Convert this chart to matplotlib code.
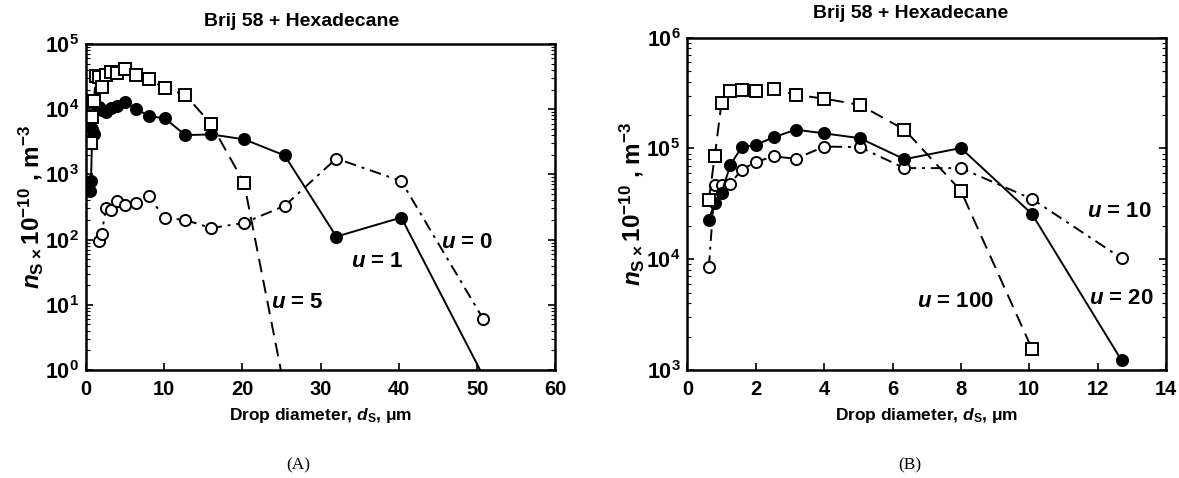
import matplotlib
matplotlib.use("Agg")
import matplotlib.pyplot as plt

plt.rcParams.update({
    "font.family": "Liberation Sans",
    "font.weight": "bold",
    "axes.labelweight": "bold",
    "font.size": 12,
    "mathtext.fontset": "custom",
    "mathtext.rm": "Liberation Sans:bold",
    "mathtext.bf": "Liberation Sans:bold",
    "mathtext.it": "Liberation Sans:bold:italic",
    "axes.linewidth": 1.8,
    "xtick.direction": "in",
    "ytick.direction": "in",
    "ytick.right": True,
})

TITLE = "Brij 58 + Hexadecane"

# ---- panel A ----
d_u0 = [1.59, 2.0, 2.52, 3.17, 4.0, 5.04, 6.35, 8.0, 10.08, 12.7, 16.0, 20.2, 25.4, 32.0, 40.3, 50.8]
n_u0 = [95, 120, 300, 285, 390, 340, 370, 460, 215, 200, 150, 180, 330, 1750, 790, 6]

d_u1 = [0.5, 0.63, 0.8, 1.0, 1.59, 2.0, 2.52, 3.17, 4.0, 5.04, 6.35, 8.0, 10.08, 12.7, 16.0, 20.2, 25.4, 32.0, 40.3, 50.8]
n_u1 = [560, 800, 5000, 4200, 10700, 9800, 9100, 10300, 11200, 12700, 10200, 7900, 7200, 4000, 4100, 3450, 1950, 111, 218, 0.8]

d_u5 = [0.63, 0.8, 1.0, 1.26, 1.59, 2.0, 2.52, 3.17, 4.0, 5.04, 6.35, 8.0, 10.08, 12.7, 16.0, 20.2, 25.4]
n_u5 = [3000, 7500, 13500, 32000, 31000, 22000, 33500, 37500, 36000, 41000, 33000, 29000, 21000, 16500, 5900, 740, 0.5]

# ---- panel B ----
d_B = [0.63, 0.8, 1.0, 1.26, 1.59, 2.0, 2.52, 3.17, 4.0, 5.04, 6.35, 8.0, 10.08, 12.7]
n_u10 = [8500, 46400, 47000, 48000, 64500, 75400, 85000, 80700, 104000, 103000, 66500, 66500, 35000, 10200]
n_u20 = [22700, 32500, 40000, 71300, 103000, 108000, 126000, 148000, 137000, 124000, 80000, 101000, 25600, 1220]
d_u100 = [0.63, 0.8, 1.0, 1.26, 1.59, 2.0, 2.52, 3.17, 4.0, 5.04, 6.35, 8.0, 10.08]
n_u100 = [34400, 85000, 260000, 332000, 339000, 334000, 344000, 305000, 282000, 248000, 148000, 41500, 1550]

fig = plt.figure(figsize=(11.79, 4.78), dpi=100)
axA = fig.add_axes([0.073, 0.226, 0.398, 0.682])
axB = fig.add_axes([0.583, 0.226, 0.406, 0.695])

ms = 8


def series(ax, x, y, ls, filled, marker):
    ax.plot(x, y, linestyle=ls, color="black", lw=1.4, marker=marker, ms=ms,
            mfc="black" if filled else "white", mec="black", mew=1.4)


series(axA, d_u0, n_u0, (0, (6, 3, 1.5, 3)), False, "o")
series(axA, d_u1, n_u1, "-", True, "o")
series(axA, d_u5, n_u5, (0, (7, 4)), False, "s")
axA.set_yscale("log")
axA.set_xlim(0, 60)
axA.set_ylim(1, 1e5)
axA.set_xticks(range(0, 61, 10))

series(axB, d_B, n_u10, (0, (6, 3, 1.5, 3)), False, "o")
series(axB, d_B, n_u20, "-", True, "o")
series(axB, d_u100, n_u100, (0, (7, 4)), False, "s")
axB.set_yscale("log")
axB.set_xlim(0, 14)
axB.set_ylim(1e3, 1e6)
axB.set_xticks(range(0, 15, 2))

for ax in (axA, axB):
    ax.tick_params(which="major", length=5, width=1.2, pad=7)
    ax.tick_params(axis="x", labelsize=14.5)
    ax.tick_params(axis="y", labelsize=15.5, pad=5)
    ax.tick_params(which="minor", length=3, width=0.8)
    for lab in ax.get_xticklabels():
        lab.set_fontweight("bold")
    ax.set_xlabel(r"Drop diameter, $d_\mathrm{S}$, μm", fontsize=12.5, labelpad=5)
    ax.set_ylabel(r"$n_\mathrm{S}\,_{\times}\,10^{-10}$ , m$^{-3}$", fontsize=17.5, labelpad=0)

fig.text(0.256, 0.955, TITLE, ha="center", va="center", fontsize=14)
fig.text(0.772, 0.972, TITLE, ha="center", va="center", fontsize=14)

lbl = dict(fontsize=16, ha="center", va="center")
axA.text(48.8, 90, r"$u$ = 0", **lbl)
axA.text(37.3, 46, r"$u$ = 1", **lbl)
axA.text(27.0, 10.7, r"$u$ = 5", **lbl)
axB.text(12.64, 27000, r"$u$ = 10", **lbl)
axB.text(7.84, 4150, r"$u$ = 100", **lbl)
axB.text(12.7, 4390, r"$u$ = 20", **lbl)

fig.text(0.253, 0.027, "(A)", ha="center", va="center", fontsize=12.5,
         family="Liberation Serif", weight="normal")
fig.text(0.772, 0.027, "(B)", ha="center", va="center", fontsize=12.5,
         family="Liberation Serif", weight="normal")

fig.savefig("out.png", dpi=100)
